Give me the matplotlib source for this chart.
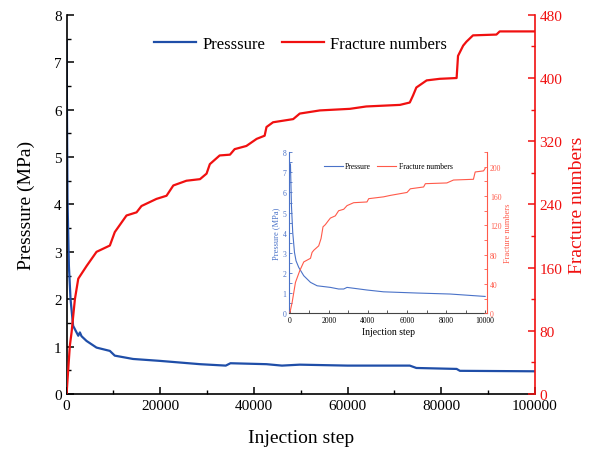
import matplotlib
matplotlib.use("Agg")
import matplotlib.pyplot as plt
from matplotlib.ticker import MultipleLocator

plt.rcParams['font.family'] = ['Liberation Serif', 'DejaVu Serif']

# ---- main chart data ----
p_step = [0, 200, 500, 850, 1400, 2500, 2850, 3200, 4270, 6400, 9250, 10300, 14200,
          19900, 28500, 34000, 35000, 42700, 46000, 49800, 60000, 73300, 74700,
          83300, 84000, 100000]
pressure = [7.46, 4.11, 2.7, 2.0, 1.44, 1.23, 1.30, 1.22, 1.12, 0.98, 0.91, 0.81, 0.74,
            0.70, 0.63, 0.60, 0.65, 0.63, 0.60, 0.62, 0.60, 0.60, 0.55,
            0.53, 0.49, 0.48]

f_step = [0, 700, 1070, 1780, 2500, 4270, 6400, 9250, 10300, 12800, 14950, 16000,
          19200, 21350, 22800, 25600, 28500, 29900, 30600, 32700, 34900, 35900,
          38400, 40600, 42300, 42700, 44100, 48400, 49800, 54100, 60500, 64000,
          71200, 73300, 74000, 74700, 76900, 79700, 83300, 83600, 84700, 85400,
          86800, 91800, 92500, 100000]
fractures = [0, 61, 78, 120, 146, 162, 180, 188, 205, 226, 230, 238,
             247, 251, 264, 270, 272, 279, 291, 302, 303, 310,
             314, 323, 327, 338, 344, 348, 355, 359, 361, 364,
             366, 369, 378, 388, 397, 399, 400, 428, 441, 446,
             454, 455, 459, 459]

# ---- inset data ----
ip_step = [0, 34, 85, 150, 240, 320, 460, 715, 1060, 1400, 2080, 2500, 2760, 2930,
           3950, 4800, 6510, 8210, 10000]
ipressure = [7.0, 7.42, 5.35, 4.02, 3.02, 2.6, 2.27, 1.86, 1.53, 1.36, 1.28, 1.2, 1.2,
             1.28, 1.15, 1.06, 1.0, 0.95, 0.83]

if_step = [0, 120, 290, 510, 715, 1060, 1140, 1230, 1480, 1600, 1700, 1820, 1990,
           2080, 2330, 2500, 2760, 2930, 3270, 3950, 4040, 4800, 5150, 6000, 6170,
           6850, 6940, 8040, 8380, 9400, 9490, 9920, 10000]
ifractures = [0, 14.6, 42, 58, 70, 75, 83, 86, 92, 102, 118, 121, 127,
              130, 133, 140, 142, 147, 151, 152, 156.5, 159, 161, 165, 170,
              172.5, 177, 178, 182, 183, 193, 194.5, 198]

BLUE = '#1f4ea8'
RED = '#f01010'
IBLUE = '#4a72c8'
IRED = '#ff5a4a'

fig = plt.figure(figsize=(5.89, 4.52), dpi=100)
ax = fig.add_axes([0.113, 0.126, 0.795, 0.839])
ax2 = ax.twinx()

l1, = ax.plot(p_step, pressure, color=BLUE, lw=1.6, label='Presssure')
l2, = ax2.plot(f_step, fractures, color=RED, lw=1.6, label='Fracture numbers')

ax.set_xlim(0, 100000)
ax.set_ylim(0, 8)
ax2.set_ylim(0, 480)
ax.xaxis.set_major_locator(MultipleLocator(20000))
ax.xaxis.set_minor_locator(MultipleLocator(10000))
ax.yaxis.set_major_locator(MultipleLocator(1))
ax.yaxis.set_minor_locator(MultipleLocator(0.5))
ax2.yaxis.set_major_locator(MultipleLocator(80))
ax2.yaxis.set_minor_locator(MultipleLocator(40))

for a in (ax, ax2):
    a.spines['top'].set_visible(False)
ax2.spines['left'].set_visible(False)
ax2.spines['bottom'].set_visible(False)
ax.spines['right'].set_visible(False)
ax2.spines['right'].set_color(RED)
ax2.spines['right'].set_linewidth(1.2)
ax.spines['left'].set_linewidth(1.2)
ax.spines['bottom'].set_linewidth(1.2)

ax.tick_params(axis='both', which='major', direction='in', length=5, width=1.1,
               labelsize=11)
ax.tick_params(axis='both', which='minor', direction='in', length=3, width=1.0)
ax2.tick_params(axis='y', which='major', direction='in', length=5, width=1.1,
                labelsize=11, colors=RED)
ax2.tick_params(axis='y', which='minor', direction='in', length=3, width=1.0,
                colors=RED)

ax.set_xlabel('Injection step', fontsize=14, labelpad=12)
ax.set_ylabel('Presssure (MPa)', fontsize=14, labelpad=14)
ax2.set_ylabel('Fracture numbers', fontsize=14, color=RED, labelpad=5)

ax.legend(handles=[l1, l2], loc='upper center', bbox_to_anchor=(0.5, 0.985),
          ncol=2, frameon=False, fontsize=12, handlelength=2.5,
          columnspacing=1.0, handletextpad=0.4)

# ---- inset ----
ia = fig.add_axes([0.491, 0.305, 0.336, 0.356])
ia2 = ia.twinx()
il1, = ia.plot(ip_step, ipressure, color=IBLUE, lw=0.8, label='Pressure')
il2, = ia2.plot(if_step, ifractures, color=IRED, lw=0.8, label='Fracture numbers')
ia.set_xlim(-30, 10100)
ia.set_ylim(0, 8)
ia2.set_ylim(0, 220)
ia.xaxis.set_major_locator(MultipleLocator(2000))
ia.xaxis.set_minor_locator(MultipleLocator(1000))
ia.yaxis.set_major_locator(MultipleLocator(1))
ia.yaxis.set_minor_locator(MultipleLocator(0.5))
ia2.yaxis.set_major_locator(MultipleLocator(40))
ia2.yaxis.set_minor_locator(MultipleLocator(20))
for a in (ia, ia2):
    a.spines['top'].set_visible(False)
    a.set_facecolor('none')
ia.spines['right'].set_visible(False)
ia2.spines['left'].set_visible(False)
ia2.spines['bottom'].set_visible(False)
ia.spines['left'].set_color(IBLUE)
ia2.spines['right'].set_color(IRED)
ia.spines['bottom'].set_color('#444444')
ia.tick_params(axis='x', which='both', direction='in', labelsize=5.5, length=2,
               width=0.6, color='#444444', pad=2)
ia.tick_params(axis='y', which='both', direction='in', labelsize=5.5, length=2,
               width=0.6, colors=IBLUE, pad=2)
ia2.tick_params(axis='y', which='both', direction='in', labelsize=5.5, length=2,
                width=0.6, colors=IRED, pad=2)
ia.set_xlabel('Injection step', fontsize=7, labelpad=2)
ia.set_ylabel('Pressure (MPa)', fontsize=6, color=IBLUE, labelpad=2)
ia2.set_ylabel('Fracture numbers', fontsize=6, color=IRED, labelpad=2)
ia.legend(handles=[il1, il2], loc='upper center', bbox_to_anchor=(0.5, 0.98),
          ncol=2, frameon=False, fontsize=5.5, handlelength=2.5,
          columnspacing=0.8, handletextpad=0.3)

fig.savefig('out.png', dpi=100)
